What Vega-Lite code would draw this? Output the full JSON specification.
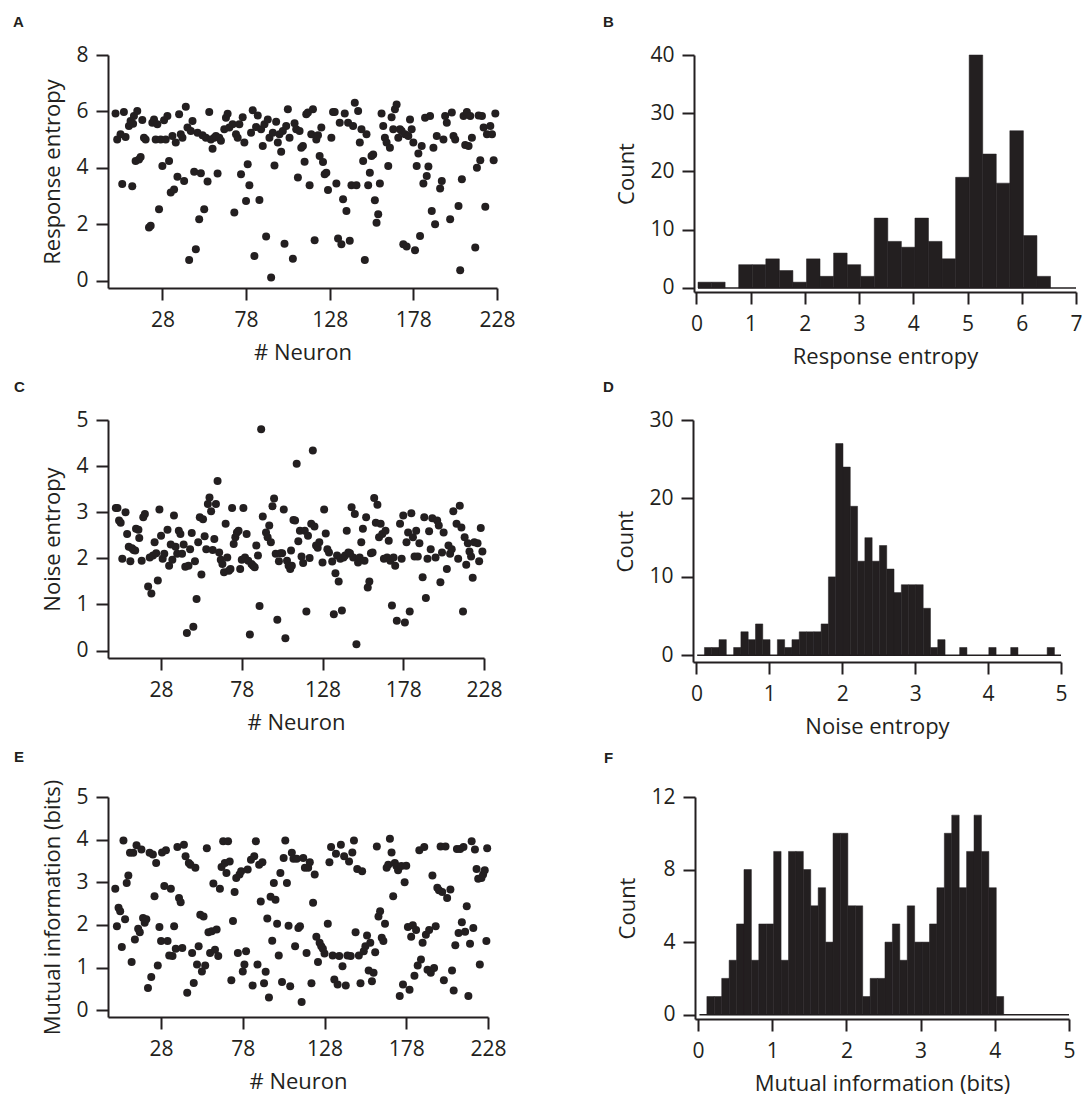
{
"$schema": "https://vega.github.io/schema/vega-lite/v6.json",
"background": "white",
"padding": {"left": 13, "top": 15, "right": 0, "bottom": 6},
"config": {
 "font": "Open Sans",
 "view": {"stroke": null},
 "axis": {"grid": false, "ticks": true, "domainColor": "#231f20", "domainWidth": 2, "tickColor": "#231f20", "tickWidth": 2, "tickSize": 12, "labelFont": "Open Sans", "labelFontSize": 21, "labelColor": "#231f20", "labelPadding": 9, "labelFlush": false, "labelOverlap": false, "labelBound": false, "format": "d", "titleFont": "Open Sans", "titleFontSize": 22, "titleFontWeight": "normal", "titleColor": "#231f20", "titlePadding": 12},
 "axisY": {"titlePadding": 11, "labelPadding": 8},
 "title": {"anchor": "start", "frame": "group", "font": "Liberation Sans", "fontSize": 15, "fontWeight": "bold", "color": "#231f20", "offset": 14}
},
"datasets": {
 "A": [{"n":0,"v":5.93},{"n":1,"v":5.01},{"n":3,"v":5.19},{"n":4,"v":3.43},{"n":5,"v":5.98},{"n":6,"v":5.1},{"n":8,"v":5.49},{"n":9,"v":5.66},{"n":10,"v":3.35},{"n":10.5,"v":5.57},{"n":11,"v":5.84},{"n":12,"v":4.25},{"n":13,"v":6.02},{"n":14,"v":4.3},{"n":15,"v":4.39},{"n":16,"v":5.7},{"n":17,"v":5.07},{"n":18,"v":5.01},{"n":20,"v":1.89},{"n":21,"v":1.95},{"n":22,"v":5.6},{"n":23,"v":5.72},{"n":24,"v":5.01},{"n":25,"v":5.55},{"n":26,"v":2.54},{"n":27,"v":5.01},{"n":28,"v":4.07},{"n":29,"v":5.69},{"n":30,"v":5.01},{"n":31,"v":5.84},{"n":32,"v":4.25},{"n":33,"v":3.13},{"n":34,"v":5.13},{"n":35,"v":3.24},{"n":36,"v":4.9},{"n":37,"v":3.69},{"n":38,"v":5.9},{"n":39,"v":5.19},{"n":40,"v":5.07},{"n":41,"v":3.54},{"n":42,"v":6.17},{"n":43,"v":5.43},{"n":44,"v":0.74},{"n":45,"v":5.31},{"n":46,"v":5.66},{"n":47,"v":3.87},{"n":48,"v":1.12},{"n":49,"v":5.25},{"n":50,"v":2.18},{"n":51,"v":3.81},{"n":52,"v":5.16},{"n":53,"v":2.54},{"n":54,"v":5.07},{"n":55,"v":3.52},{"n":56,"v":5.98},{"n":57,"v":5.01},{"n":58,"v":4.68},{"n":59,"v":5.07},{"n":60,"v":5.13},{"n":61,"v":3.8},{"n":62,"v":5.07},{"n":63,"v":4.96},{"n":65,"v":5.37},{"n":66,"v":5.78},{"n":67,"v":5.92},{"n":68,"v":5.43},{"n":70,"v":5.55},{"n":71,"v":2.42},{"n":72,"v":5.19},{"n":73,"v":5.07},{"n":74,"v":5.55},{"n":75,"v":3.78},{"n":76,"v":5.8},{"n":77,"v":4.9},{"n":78,"v":2.83},{"n":79,"v":4.13},{"n":80,"v":3.39},{"n":81,"v":5.25},{"n":82,"v":6.04},{"n":83,"v":0.88},{"n":84,"v":5.45},{"n":85,"v":5.86},{"n":86,"v":2.87},{"n":87,"v":5.37},{"n":88,"v":4.78},{"n":89,"v":5.55},{"n":90,"v":1.57},{"n":91,"v":5.72},{"n":92,"v":5.07},{"n":93,"v":0.12},{"n":94,"v":5.25},{"n":95,"v":4.09},{"n":96,"v":5.64},{"n":97,"v":4.9},{"n":98,"v":5.19},{"n":99,"v":4.57},{"n":100,"v":5.31},{"n":101,"v":1.32},{"n":102,"v":5.49},{"n":103,"v":6.08},{"n":104,"v":5.07},{"n":106,"v":0.79},{"n":107,"v":5.58},{"n":108,"v":5.37},{"n":109,"v":3.66},{"n":110,"v":5.31},{"n":111,"v":4.72},{"n":112,"v":4.78},{"n":113,"v":4.22},{"n":114,"v":5.9},{"n":115,"v":5.96},{"n":116,"v":3.39},{"n":117,"v":5.19},{"n":118,"v":6.08},{"n":119,"v":1.44},{"n":120,"v":5.01},{"n":121,"v":5.16},{"n":122,"v":4.42},{"n":123,"v":5.43},{"n":124,"v":4.21},{"n":125,"v":3.78},{"n":126,"v":3.83},{"n":127,"v":3.22},{"n":129,"v":5.07},{"n":130,"v":5.98},{"n":131,"v":5.98},{"n":132,"v":3.45},{"n":133,"v":1.5},{"n":134,"v":5.6},{"n":135,"v":1.3},{"n":136,"v":2.89},{"n":137,"v":5.93},{"n":138,"v":2.48},{"n":139,"v":5.6},{"n":140,"v":1.42},{"n":141,"v":3.39},{"n":142,"v":5.49},{"n":143,"v":6.31},{"n":144,"v":3.39},{"n":145,"v":6.02},{"n":146,"v":4.9},{"n":147,"v":5.37},{"n":148,"v":4.25},{"n":149,"v":0.74},{"n":150,"v":5.19},{"n":151,"v":3.39},{"n":152,"v":3.83},{"n":153,"v":4.42},{"n":154,"v":4.48},{"n":155,"v":2.86},{"n":156,"v":2.06},{"n":157,"v":2.36},{"n":158,"v":3.45},{"n":159,"v":5.93},{"n":160,"v":5.49},{"n":161,"v":5.07},{"n":162,"v":4.9},{"n":163,"v":4.07},{"n":164,"v":4.72},{"n":165,"v":5.8},{"n":166,"v":5.37},{"n":167,"v":6.08},{"n":168,"v":6.25},{"n":169,"v":5.07},{"n":170,"v":5.37},{"n":171,"v":5.31},{"n":172,"v":1.3},{"n":173,"v":5.19},{"n":174,"v":1.22},{"n":175,"v":5.13},{"n":176,"v":5.72},{"n":177,"v":5.37},{"n":178,"v":4.9},{"n":179,"v":1.09},{"n":180,"v":4.07},{"n":181,"v":4.51},{"n":182,"v":1.59},{"n":183,"v":4.78},{"n":184,"v":3.45},{"n":185,"v":5.78},{"n":186,"v":3.72},{"n":187,"v":4.05},{"n":188,"v":5.84},{"n":189,"v":2.48},{"n":190,"v":4.72},{"n":191,"v":2.01},{"n":192,"v":5.13},{"n":194,"v":3.27},{"n":195,"v":3.54},{"n":196,"v":5.01},{"n":197,"v":5.84},{"n":198,"v":5.6},{"n":200,"v":2.18},{"n":201,"v":5.96},{"n":202,"v":5.13},{"n":203,"v":5.01},{"n":205,"v":2.65},{"n":206,"v":0.38},{"n":207,"v":3.6},{"n":208,"v":5.84},{"n":209,"v":4.81},{"n":210,"v":5.98},{"n":211,"v":4.78},{"n":212,"v":5.84},{"n":213,"v":5.07},{"n":215,"v":1.18},{"n":216,"v":4.01},{"n":217,"v":5.86},{"n":218,"v":4.27},{"n":219,"v":5.84},{"n":220,"v":5.43},{"n":221,"v":2.63},{"n":222,"v":5.19},{"n":224,"v":5.49},{"n":225,"v":5.19},{"n":226,"v":4.27},{"n":227,"v":5.93}],
 "C": [{"n":0,"v":3.09},{"n":1,"v":3.09},{"n":2,"v":2.82},{"n":3,"v":2.77},{"n":4,"v":1.99},{"n":6,"v":3.0},{"n":7,"v":2.53},{"n":8,"v":2.25},{"n":9,"v":1.94},{"n":10,"v":2.22},{"n":11,"v":2.18},{"n":12,"v":2.17},{"n":12.5,"v":2.64},{"n":14,"v":2.62},{"n":14.5,"v":2.44},{"n":16,"v":1.95},{"n":17,"v":2.89},{"n":18,"v":2.96},{"n":20,"v":1.39},{"n":21,"v":2.02},{"n":22,"v":1.24},{"n":23,"v":2.06},{"n":24,"v":2.35},{"n":25,"v":2.11},{"n":26,"v":1.52},{"n":27,"v":3.06},{"n":28,"v":2.49},{"n":29,"v":1.99},{"n":30,"v":2.1},{"n":32,"v":2.62},{"n":33,"v":1.84},{"n":34,"v":2.3},{"n":35,"v":1.97},{"n":36,"v":2.93},{"n":37,"v":2.25},{"n":38,"v":2.1},{"n":39,"v":2.6},{"n":40,"v":2.53},{"n":41,"v":2.1},{"n":42,"v":2.3},{"n":43,"v":1.82},{"n":44,"v":0.38},{"n":45,"v":1.84},{"n":46,"v":2.2},{"n":47,"v":2.55},{"n":48,"v":0.52},{"n":49,"v":1.94},{"n":50,"v":1.12},{"n":51,"v":2.35},{"n":52,"v":2.89},{"n":53,"v":1.65},{"n":54,"v":2.85},{"n":55,"v":2.48},{"n":56,"v":2.2},{"n":57,"v":3.18},{"n":58,"v":3.32},{"n":59,"v":3.02},{"n":60,"v":2.18},{"n":61,"v":2.42},{"n":62,"v":3.18},{"n":63,"v":3.68},{"n":64,"v":2.13},{"n":65,"v":1.97},{"n":66,"v":1.88},{"n":67,"v":1.7},{"n":68,"v":2.75},{"n":69,"v":2.02},{"n":70,"v":1.73},{"n":71,"v":1.77},{"n":72,"v":3.09},{"n":73,"v":2.31},{"n":74,"v":2.46},{"n":75,"v":2.56},{"n":76,"v":2.6},{"n":77,"v":1.77},{"n":78,"v":1.97},{"n":79,"v":3.09},{"n":80,"v":2.02},{"n":81,"v":2.53},{"n":82,"v":1.95},{"n":83,"v":0.35},{"n":84,"v":1.88},{"n":85,"v":1.84},{"n":86,"v":1.81},{"n":87,"v":2.28},{"n":88,"v":2.06},{"n":89,"v":0.97},{"n":90,"v":4.8},{"n":91,"v":2.91},{"n":93,"v":2.56},{"n":94,"v":2.46},{"n":95,"v":2.71},{"n":96,"v":2.35},{"n":97,"v":3.13},{"n":98,"v":3.3},{"n":99,"v":2.1},{"n":100,"v":0.67},{"n":101,"v":1.94},{"n":102,"v":2.11},{"n":103,"v":2.11},{"n":104,"v":3.06},{"n":105,"v":0.27},{"n":106,"v":1.95},{"n":107,"v":1.84},{"n":108,"v":1.77},{"n":108.5,"v":2.17},{"n":109,"v":1.84},{"n":110,"v":2.83},{"n":111,"v":2.82},{"n":112,"v":4.05},{"n":113,"v":2.37},{"n":114,"v":2.6},{"n":115,"v":2.04},{"n":116,"v":1.9},{"n":117,"v":2.6},{"n":118,"v":0.85},{"n":119,"v":2.49},{"n":120,"v":2.01},{"n":121,"v":2.75},{"n":122,"v":4.34},{"n":123,"v":2.69},{"n":124,"v":2.28},{"n":125,"v":2.23},{"n":126,"v":2.35},{"n":128,"v":1.91},{"n":129,"v":3.06},{"n":130,"v":2.54},{"n":131,"v":2.2},{"n":132,"v":2.13},{"n":134,"v":1.93},{"n":135,"v":0.79},{"n":136,"v":1.68},{"n":137,"v":2.06},{"n":138,"v":1.5},{"n":139,"v":1.99},{"n":140,"v":0.87},{"n":141,"v":2.02},{"n":142,"v":2.06},{"n":143,"v":2.6},{"n":144,"v":2.13},{"n":145,"v":2.11},{"n":146,"v":3.11},{"n":147,"v":2.02},{"n":148,"v":2.96},{"n":149,"v":0.14},{"n":150,"v":1.91},{"n":151,"v":2.02},{"n":152,"v":2.35},{"n":153,"v":2.64},{"n":154,"v":1.95},{"n":155,"v":2.89},{"n":156,"v":1.37},{"n":157,"v":1.5},{"n":158,"v":2.11},{"n":159,"v":2.13},{"n":160,"v":3.31},{"n":161,"v":2.77},{"n":162,"v":3.16},{"n":163,"v":2.46},{"n":164,"v":2.75},{"n":165,"v":2.53},{"n":166,"v":1.99},{"n":167,"v":2.6},{"n":168,"v":2.02},{"n":169,"v":2.38},{"n":170,"v":1.95},{"n":171,"v":0.98},{"n":172,"v":2.02},{"n":173,"v":1.84},{"n":174,"v":0.65},{"n":176,"v":2.75},{"n":177,"v":1.99},{"n":178,"v":2.93},{"n":179,"v":0.61},{"n":180,"v":2.35},{"n":181,"v":2.56},{"n":182,"v":0.85},{"n":183,"v":2.98},{"n":184,"v":2.46},{"n":185,"v":2.04},{"n":186,"v":2.6},{"n":187,"v":2.04},{"n":188,"v":2.33},{"n":190,"v":1.59},{"n":191,"v":2.89},{"n":192,"v":1.14},{"n":193,"v":1.99},{"n":194,"v":2.59},{"n":195,"v":2.2},{"n":196,"v":2.87},{"n":198,"v":2.02},{"n":199,"v":2.82},{"n":200,"v":2.71},{"n":201,"v":1.48},{"n":202,"v":2.13},{"n":203,"v":2.56},{"n":205,"v":1.77},{"n":206,"v":2.28},{"n":207,"v":2.1},{"n":208,"v":2.2},{"n":209,"v":3.02},{"n":211,"v":2.75},{"n":212,"v":1.99},{"n":213,"v":3.14},{"n":214,"v":2.67},{"n":215,"v":0.85},{"n":216,"v":2.46},{"n":217,"v":1.86},{"n":218,"v":2.33},{"n":219,"v":2.15},{"n":220,"v":2.04},{"n":221,"v":1.58},{"n":222,"v":2.35},{"n":224,"v":2.33},{"n":225,"v":1.94},{"n":226,"v":2.66},{"n":227,"v":2.15}],
 "E": [{"n":0,"v":2.85},{"n":1,"v":1.97},{"n":2,"v":2.4},{"n":3,"v":2.32},{"n":4,"v":1.48},{"n":5,"v":3.98},{"n":6,"v":2.13},{"n":7,"v":2.98},{"n":8,"v":3.16},{"n":9,"v":3.69},{"n":10,"v":1.13},{"n":11,"v":3.69},{"n":12,"v":1.66},{"n":13,"v":3.87},{"n":14,"v":1.91},{"n":15,"v":1.83},{"n":16,"v":3.77},{"n":17,"v":2.16},{"n":18,"v":2.05},{"n":19,"v":2.13},{"n":20,"v":0.52},{"n":21,"v":3.69},{"n":22,"v":0.78},{"n":23,"v":3.65},{"n":24,"v":2.67},{"n":25,"v":3.45},{"n":26,"v":1.05},{"n":27,"v":1.95},{"n":28,"v":1.62},{"n":28.6,"v":3.7},{"n":30,"v":2.91},{"n":31,"v":3.75},{"n":32,"v":1.62},{"n":33,"v":1.28},{"n":34,"v":2.85},{"n":35,"v":1.27},{"n":36,"v":1.97},{"n":37,"v":1.44},{"n":38,"v":3.83},{"n":39,"v":2.63},{"n":40,"v":2.53},{"n":41,"v":1.46},{"n":42,"v":3.88},{"n":43,"v":3.61},{"n":44,"v":0.41},{"n":45,"v":3.45},{"n":46,"v":3.41},{"n":47,"v":1.34},{"n":48,"v":0.64},{"n":49,"v":3.34},{"n":50,"v":1.07},{"n":51,"v":1.5},{"n":52,"v":2.24},{"n":53,"v":0.91},{"n":54,"v":2.2},{"n":55,"v":1.05},{"n":56,"v":3.8},{"n":57,"v":1.83},{"n":58,"v":1.34},{"n":59,"v":1.85},{"n":60,"v":2.97},{"n":61,"v":1.42},{"n":62,"v":1.89},{"n":63,"v":1.27},{"n":64,"v":2.85},{"n":65,"v":3.36},{"n":66,"v":3.96},{"n":67,"v":3.45},{"n":68,"v":3.22},{"n":69,"v":3.96},{"n":70,"v":3.49},{"n":71,"v":0.7},{"n":72,"v":2.09},{"n":73,"v":2.77},{"n":74,"v":3.1},{"n":75,"v":1.34},{"n":76,"v":3.18},{"n":77,"v":3.26},{"n":78,"v":0.91},{"n":79,"v":1.07},{"n":80,"v":1.38},{"n":81,"v":3.3},{"n":83,"v":3.53},{"n":84,"v":0.58},{"n":85,"v":3.61},{"n":86,"v":3.96},{"n":87,"v":1.07},{"n":88,"v":3.41},{"n":89,"v":2.55},{"n":90,"v":3.47},{"n":91,"v":0.63},{"n":92,"v":0.9},{"n":93,"v":2.15},{"n":94,"v":0.3},{"n":95,"v":2.66},{"n":96,"v":1.63},{"n":97,"v":2.98},{"n":98,"v":2.59},{"n":99,"v":2.03},{"n":100,"v":1.28},{"n":101,"v":3.22},{"n":102,"v":0.66},{"n":103,"v":3.57},{"n":104,"v":3.98},{"n":105,"v":2.98},{"n":106,"v":1.98},{"n":107,"v":0.56},{"n":108,"v":3.69},{"n":109,"v":3.55},{"n":110,"v":1.5},{"n":111,"v":3.55},{"n":112,"v":1.93},{"n":113,"v":1.97},{"n":114,"v":0.19},{"n":115,"v":3.57},{"n":116,"v":3.34},{"n":117,"v":1.34},{"n":118,"v":3.34},{"n":119,"v":3.47},{"n":120,"v":0.63},{"n":121,"v":2.52},{"n":122,"v":3.18},{"n":123,"v":1.72},{"n":124,"v":1.13},{"n":125,"v":1.58},{"n":126,"v":1.5},{"n":127,"v":1.44},{"n":128,"v":1.33},{"n":130,"v":2.03},{"n":131,"v":3.47},{"n":132,"v":3.83},{"n":133,"v":1.28},{"n":134,"v":0.72},{"n":135,"v":3.67},{"n":136,"v":0.6},{"n":137,"v":1.27},{"n":138,"v":3.88},{"n":139,"v":1.03},{"n":140,"v":3.61},{"n":141,"v":0.58},{"n":142,"v":1.28},{"n":143,"v":3.49},{"n":144,"v":1.27},{"n":145,"v":3.7},{"n":146,"v":3.98},{"n":147,"v":1.83},{"n":148,"v":3.31},{"n":149,"v":1.28},{"n":150,"v":0.63},{"n":151,"v":3.26},{"n":152,"v":1.38},{"n":153,"v":1.5},{"n":154,"v":1.75},{"n":155,"v":0.93},{"n":156,"v":1.58},{"n":157,"v":0.68},{"n":158,"v":0.88},{"n":159,"v":1.36},{"n":160,"v":3.84},{"n":161,"v":2.2},{"n":162,"v":2.32},{"n":163,"v":1.7},{"n":164,"v":1.62},{"n":165,"v":2.03},{"n":166,"v":3.34},{"n":167,"v":3.41},{"n":168,"v":4.02},{"n":169,"v":3.7},{"n":170,"v":2.67},{"n":171,"v":3.45},{"n":172,"v":3.38},{"n":173,"v":3.28},{"n":174,"v":0.33},{"n":175,"v":3.38},{"n":176,"v":0.6},{"n":177,"v":3.0},{"n":178,"v":3.39},{"n":179,"v":1.95},{"n":180,"v":0.48},{"n":181,"v":1.72},{"n":182,"v":1.99},{"n":183,"v":0.81},{"n":184,"v":1.88},{"n":185,"v":1.05},{"n":186,"v":3.75},{"n":187,"v":1.19},{"n":188,"v":1.58},{"n":189,"v":3.83},{"n":190,"v":1.77},{"n":191,"v":0.95},{"n":192,"v":1.88},{"n":193,"v":0.88},{"n":194,"v":3.16},{"n":195,"v":0.99},{"n":196,"v":1.97},{"n":197,"v":2.87},{"n":198,"v":2.81},{"n":199,"v":3.84},{"n":200,"v":2.77},{"n":201,"v":0.7},{"n":202,"v":3.84},{"n":203,"v":2.63},{"n":205,"v":2.83},{"n":206,"v":0.93},{"n":207,"v":0.46},{"n":208,"v":1.52},{"n":209,"v":3.78},{"n":210,"v":1.81},{"n":211,"v":3.78},{"n":212,"v":2.06},{"n":213,"v":3.83},{"n":214,"v":1.84},{"n":215,"v":2.44},{"n":216,"v":0.33},{"n":217,"v":1.56},{"n":218,"v":3.96},{"n":219,"v":1.93},{"n":220,"v":3.77},{"n":221,"v":3.31},{"n":222,"v":3.08},{"n":223,"v":1.07},{"n":224,"v":3.1},{"n":225,"v":3.18},{"n":226,"v":3.28},{"n":227,"v":1.62},{"n":227.5,"v":3.8}],
 "B": [{"lo":0.03,"hi":0.28,"c":1},{"lo":0.28,"hi":0.53,"c":1},{"lo":0.78,"hi":1.03,"c":4},{"lo":1.03,"hi":1.28,"c":4},{"lo":1.28,"hi":1.53,"c":5},{"lo":1.53,"hi":1.78,"c":3},{"lo":1.78,"hi":2.03,"c":1},{"lo":2.03,"hi":2.28,"c":5},{"lo":2.28,"hi":2.53,"c":2},{"lo":2.53,"hi":2.78,"c":6},{"lo":2.78,"hi":3.03,"c":4},{"lo":3.03,"hi":3.28,"c":2},{"lo":3.28,"hi":3.53,"c":12},{"lo":3.53,"hi":3.78,"c":8},{"lo":3.78,"hi":4.03,"c":7},{"lo":4.03,"hi":4.28,"c":12},{"lo":4.28,"hi":4.53,"c":8},{"lo":4.53,"hi":4.78,"c":5},{"lo":4.78,"hi":5.03,"c":19},{"lo":5.03,"hi":5.28,"c":40},{"lo":5.28,"hi":5.53,"c":23},{"lo":5.53,"hi":5.78,"c":18},{"lo":5.78,"hi":6.03,"c":27},{"lo":6.03,"hi":6.28,"c":9},{"lo":6.28,"hi":6.53,"c":2}],
 "D": [{"lo":0.11,"hi":0.21,"c":1},{"lo":0.21,"hi":0.31,"c":1},{"lo":0.31,"hi":0.41,"c":2},{"lo":0.51,"hi":0.61,"c":1},{"lo":0.61,"hi":0.71,"c":3},{"lo":0.71,"hi":0.81,"c":2},{"lo":0.81,"hi":0.91,"c":4},{"lo":0.91,"hi":1.01,"c":2},{"lo":1.11,"hi":1.21,"c":2},{"lo":1.21,"hi":1.31,"c":1},{"lo":1.31,"hi":1.41,"c":2},{"lo":1.41,"hi":1.51,"c":3},{"lo":1.51,"hi":1.61,"c":3},{"lo":1.61,"hi":1.71,"c":3},{"lo":1.71,"hi":1.81,"c":4},{"lo":1.81,"hi":1.91,"c":10},{"lo":1.91,"hi":2.01,"c":27},{"lo":2.01,"hi":2.11,"c":24},{"lo":2.11,"hi":2.21,"c":19},{"lo":2.21,"hi":2.31,"c":12},{"lo":2.31,"hi":2.41,"c":15},{"lo":2.41,"hi":2.51,"c":12},{"lo":2.51,"hi":2.61,"c":14},{"lo":2.61,"hi":2.71,"c":11},{"lo":2.71,"hi":2.81,"c":8},{"lo":2.81,"hi":2.91,"c":9},{"lo":2.91,"hi":3.01,"c":9},{"lo":3.01,"hi":3.11,"c":9},{"lo":3.11,"hi":3.21,"c":6},{"lo":3.21,"hi":3.31,"c":1},{"lo":3.31,"hi":3.41,"c":2},{"lo":3.61,"hi":3.71,"c":1},{"lo":4.01,"hi":4.11,"c":1},{"lo":4.31,"hi":4.41,"c":1},{"lo":4.81,"hi":4.91,"c":1}],
 "F": [{"lo":0.12,"hi":0.22,"c":1},{"lo":0.22,"hi":0.32,"c":1},{"lo":0.32,"hi":0.42,"c":2},{"lo":0.42,"hi":0.52,"c":3},{"lo":0.52,"hi":0.62,"c":5},{"lo":0.62,"hi":0.72,"c":8},{"lo":0.72,"hi":0.82,"c":3},{"lo":0.82,"hi":0.92,"c":5},{"lo":0.92,"hi":1.02,"c":5},{"lo":1.02,"hi":1.12,"c":9},{"lo":1.12,"hi":1.22,"c":3},{"lo":1.22,"hi":1.32,"c":9},{"lo":1.32,"hi":1.42,"c":9},{"lo":1.42,"hi":1.52,"c":8},{"lo":1.52,"hi":1.62,"c":6},{"lo":1.62,"hi":1.72,"c":7},{"lo":1.72,"hi":1.82,"c":4},{"lo":1.82,"hi":1.92,"c":10},{"lo":1.92,"hi":2.02,"c":10},{"lo":2.02,"hi":2.12,"c":6},{"lo":2.12,"hi":2.22,"c":6},{"lo":2.22,"hi":2.32,"c":1},{"lo":2.32,"hi":2.42,"c":2},{"lo":2.42,"hi":2.52,"c":2},{"lo":2.52,"hi":2.62,"c":4},{"lo":2.62,"hi":2.72,"c":5},{"lo":2.72,"hi":2.82,"c":3},{"lo":2.82,"hi":2.92,"c":6},{"lo":2.92,"hi":3.02,"c":4},{"lo":3.02,"hi":3.12,"c":4},{"lo":3.12,"hi":3.22,"c":5},{"lo":3.22,"hi":3.32,"c":7},{"lo":3.32,"hi":3.42,"c":10},{"lo":3.42,"hi":3.52,"c":11},{"lo":3.52,"hi":3.62,"c":7},{"lo":3.62,"hi":3.72,"c":9},{"lo":3.72,"hi":3.82,"c":11},{"lo":3.82,"hi":3.92,"c":9},{"lo":3.92,"hi":4.02,"c":7},{"lo":4.02,"hi":4.12,"c":1}]
},
"spacing": 13,
"vconcat": [
 {"hconcat": [
  {"width": 389, "height": 233, "title": {"text": "A", "dx": -95},
   "data": {"name": "A"},
   "mark": {"type": "circle", "size": 64, "opacity": 1, "color": "#231f20"},
   "encoding": {
    "x": {"field": "n", "type": "quantitative", "scale": {"domain": [-4.5, 228], "nice": false, "zero": false}, "axis": {"title": "# Neuron", "values": [28, 78, 128, 178, 228]}},
    "y": {"field": "v", "type": "quantitative", "scale": {"domain": [-0.25, 8], "nice": false, "zero": false}, "axis": {"title": "Response entropy", "values": [0, 2, 4, 6, 8]}}}},
  {"width": 382, "height": 237, "title": {"text": "B", "dx": -91},
   "layer": [
    {"data": {"values": [{"lo": 0.03, "hi": 7}]},
     "mark": {"type": "rule", "color": "#231f20", "strokeWidth": 1.5},
     "encoding": {
      "x": {"field": "lo", "type": "quantitative", "scale": {"domain": [-0.044, 7], "nice": false, "zero": false}, "axis": {"title": "Response entropy", "values": [0, 1, 2, 3, 4, 5, 6, 7]}},
      "x2": {"field": "hi"},
      "y": {"datum": 0, "type": "quantitative", "scale": {"domain": [-0.69, 40], "nice": false, "zero": false}, "axis": {"title": "Count", "values": [0, 10, 20, 30, 40]}}}},
    {"data": {"name": "B"},
     "mark": {"type": "rect", "color": "#231f20", "stroke": "#231f20", "strokeWidth": 0.5},
     "encoding": {
      "x": {"field": "lo", "type": "quantitative", "axis": {"title": "Response entropy"}},
      "x2": {"field": "hi"},
      "y": {"field": "c", "type": "quantitative", "axis": {"title": "Count"}},
      "y2": {"datum": 0}}}
   ]}
 ], "spacing": 87},
 {"hconcat": [
  {"width": 376, "height": 238, "title": {"text": "C", "dx": -94},
   "data": {"name": "C"},
   "mark": {"type": "circle", "size": 64, "opacity": 1, "color": "#231f20"},
   "encoding": {
    "x": {"field": "n", "type": "quantitative", "scale": {"domain": [-4.85, 228], "nice": false, "zero": false}, "axis": {"title": "# Neuron", "values": [28, 78, 128, 178, 228]}},
    "y": {"field": "v", "type": "quantitative", "scale": {"domain": [-0.16, 5], "nice": false, "zero": false}, "axis": {"title": "Noise entropy", "values": [0, 1, 2, 3, 4, 5]}}}},
  {"width": 368, "height": 242, "title": {"text": "D", "dx": -90},
   "layer": [
    {"data": {"values": [{"lo": 0.01, "hi": 5}]},
     "mark": {"type": "rule", "color": "#231f20", "strokeWidth": 1.5},
     "encoding": {
      "x": {"field": "lo", "type": "quantitative", "scale": {"domain": [-0.047, 5], "nice": false, "zero": false}, "axis": {"title": "Noise entropy", "values": [0, 1, 2, 3, 4, 5]}},
      "x2": {"field": "hi"},
      "y": {"datum": 0, "type": "quantitative", "scale": {"domain": [-0.85, 30], "nice": false, "zero": false}, "axis": {"title": "Count", "values": [0, 10, 20, 30]}}}},
    {"data": {"name": "D"},
     "mark": {"type": "rect", "color": "#231f20", "stroke": "#231f20", "strokeWidth": 0.5},
     "encoding": {
      "x": {"field": "lo", "type": "quantitative", "axis": {"title": "Noise entropy"}},
      "x2": {"field": "hi"},
      "y": {"field": "c", "type": "quantitative", "axis": {"title": "Count"}},
      "y2": {"datum": 0}}}
   ]}
 ], "spacing": 100},
 {"hconcat": [
  {"width": 380, "height": 220, "title": {"text": "E", "dx": -94},
   "data": {"name": "E"},
   "mark": {"type": "circle", "size": 64, "opacity": 1, "color": "#231f20"},
   "encoding": {
    "x": {"field": "n", "type": "quantitative", "scale": {"domain": [-4.45, 228], "nice": false, "zero": false}, "axis": {"title": "# Neuron", "values": [28, 78, 128, 178, 228]}},
    "y": {"field": "v", "type": "quantitative", "scale": {"domain": [-0.16, 5], "nice": false, "zero": false}, "axis": {"title": "Mutual information (bits)", "values": [0, 1, 2, 3, 4, 5]}}}},
  {"width": 374, "height": 222, "title": {"text": "F", "dx": -91, "offset": 20},
   "layer": [
    {"data": {"values": [{"lo": 0.02, "hi": 5}]},
     "mark": {"type": "rule", "color": "#231f20", "strokeWidth": 1.5},
     "encoding": {
      "x": {"field": "lo", "type": "quantitative", "scale": {"domain": [-0.04, 5], "nice": false, "zero": false}, "axis": {"title": "Mutual information (bits)", "values": [0, 1, 2, 3, 4, 5]}},
      "x2": {"field": "hi"},
      "y": {"datum": 0, "type": "quantitative", "scale": {"domain": [-0.24, 12], "nice": false, "zero": false}, "axis": {"title": "Count", "values": [0, 4, 8, 12]}}}},
    {"data": {"name": "F"},
     "mark": {"type": "rect", "color": "#231f20", "stroke": "#231f20", "strokeWidth": 0.5},
     "encoding": {
      "x": {"field": "lo", "type": "quantitative", "axis": {"title": "Mutual information (bits)"}},
      "x2": {"field": "hi"},
      "y": {"field": "c", "type": "quantitative", "axis": {"title": "Count"}},
      "y2": {"datum": 0}}}
   ]}
 ], "spacing": 97}
]
}
